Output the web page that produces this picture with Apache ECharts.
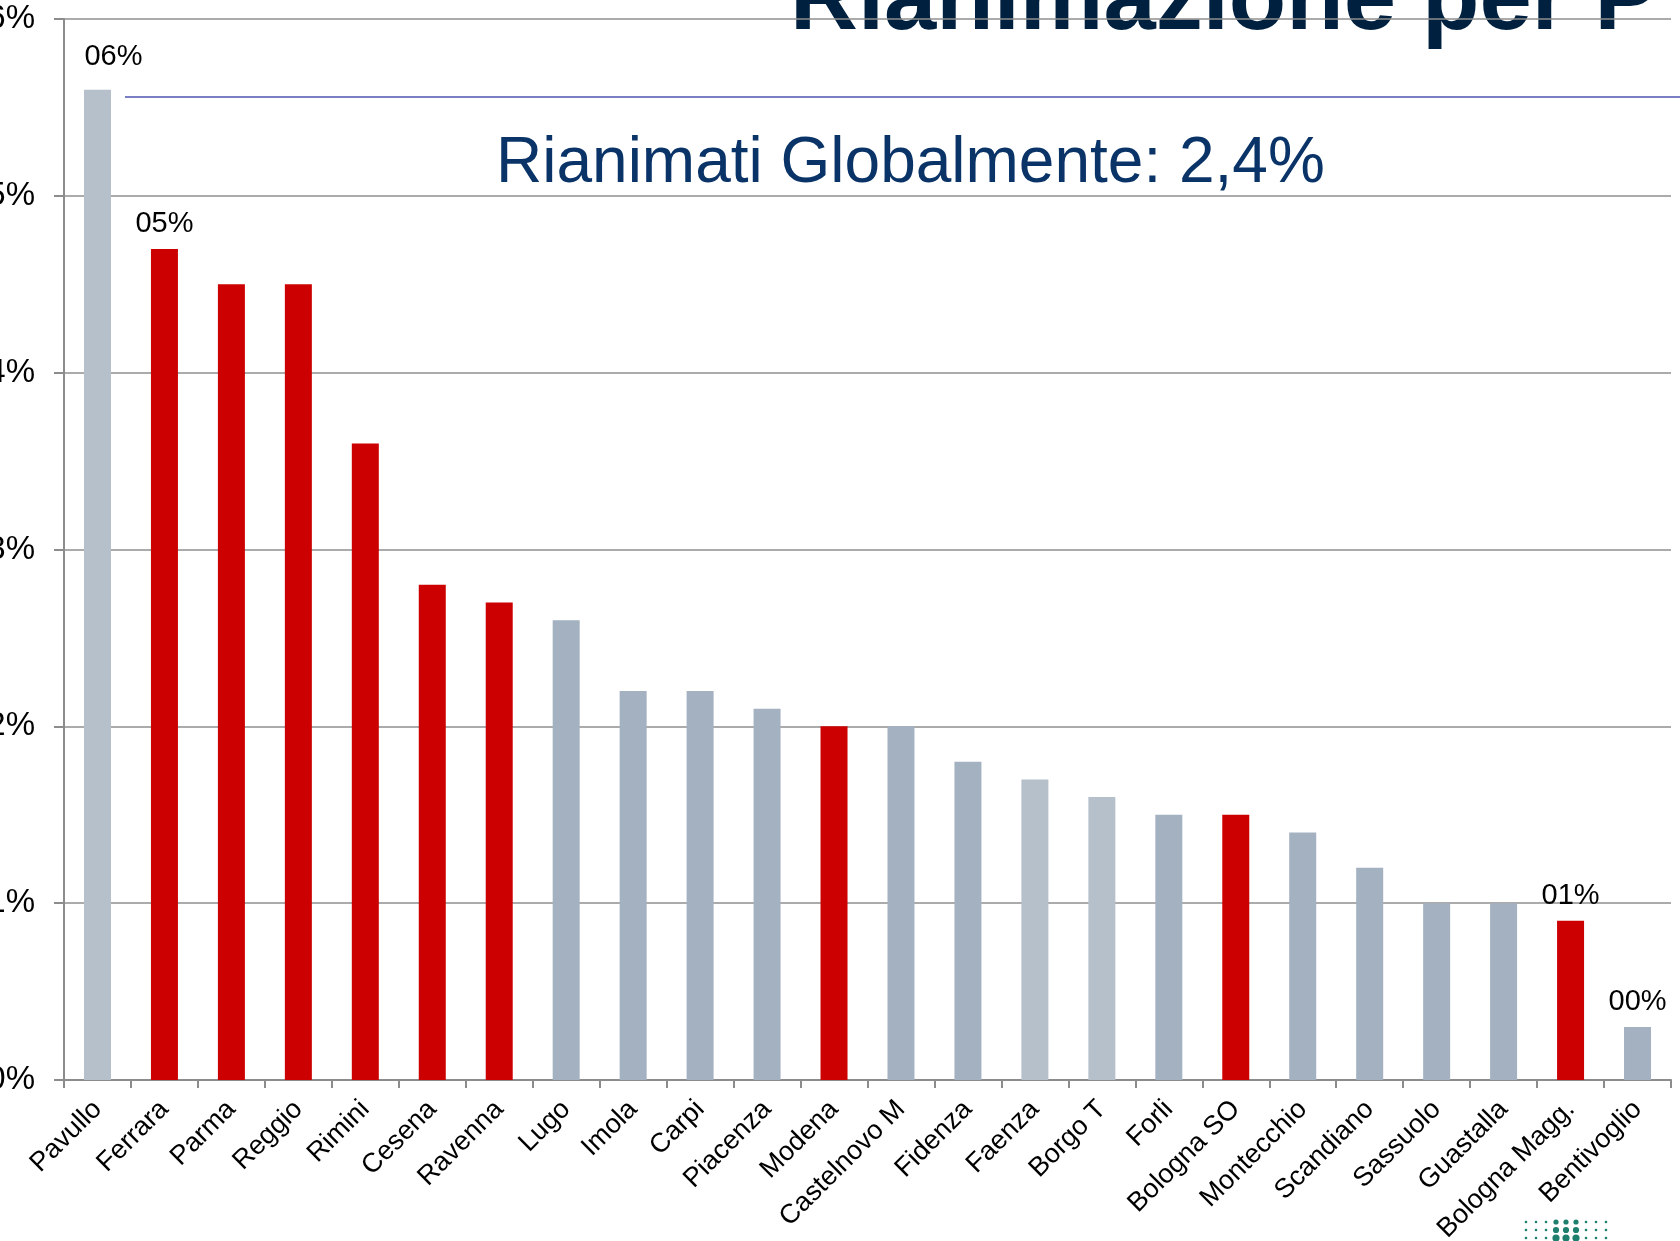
<!DOCTYPE html>
<html>
<head>
<meta charset="utf-8">
<title>Rianimazione per P</title>
<script src="https://cdn.jsdelivr.net/npm/echarts@6/dist/echarts.min.js"></script>
<style>
  html, body { margin: 0; padding: 0; background: #fff; }
  #main { width: 1680px; height: 1241px; }
</style>
</head>
<body>
<div id="main"></div>
<script>
// ospedali, ordinati per percentuale di rianimati
var ospedali = ['Pavullo', 'Ferrara', 'Parma', 'Reggio', 'Rimini', 'Cesena', 'Ravenna', 'Lugo',
  'Imola', 'Carpi', 'Piacenza', 'Modena', 'Castelnovo M', 'Fidenza', 'Faenza', 'Borgo T',
  'Forli', 'Bologna SO', 'Montecchio', 'Scandiano', 'Sassuolo', 'Guastalla', 'Bologna Magg.', 'Bentivoglio'];
var rianimati = [5.6, 4.7, 4.5, 4.5, 3.6, 2.8, 2.7, 2.6,
  2.2, 2.2, 2.1, 2.0, 2.0, 1.8, 1.7, 1.6,
  1.5, 1.5, 1.4, 1.2, 1.0, 1.0, 0.9, 0.3];
var evidenziati = ['Ferrara', 'Parma', 'Reggio', 'Rimini', 'Cesena', 'Ravenna', 'Modena', 'Bologna SO', 'Bologna Magg.'];
var chiari = ['Pavullo', 'Faenza', 'Borgo T'];
var conEtichetta = ['Pavullo', 'Ferrara', 'Bologna Magg.', 'Bentivoglio'];
var yTicks = [0, 1, 2, 3, 4, 5, 6];

var myChart = echarts.init(document.getElementById('main'));

var barData = ospedali.map(function (nome, i) {
  var colore = '#A3B1C0';
  if (evidenziati.indexOf(nome) >= 0) colore = '#CC0000';
  else if (chiari.indexOf(nome) >= 0) colore = '#B5C0CB';
  var item = { value: rianimati[i], itemStyle: { color: colore } };
  if (conEtichetta.indexOf(nome) >= 0) {
    item.label = { show: true };
    if (nome === 'Pavullo') item.label.offset = [16, -8];
  }
  return item;
});

// piccolo logo a puntini in basso a destra
var dots = [];
for (var r = 0; r < 3; r++) {
  for (var c = 0; c < 9; c++) {
    var big = (c >= 3 && c <= 5);
    dots.push({
      type: 'circle',
      shape: { cx: 1526 + c * 10, cy: 1222 + r * 8, r: big ? 2.6 + r * 0.5 : 1.3 },
      style: { fill: '#1F7F6E' }
    });
  }
}

myChart.setOption({
  backgroundColor: '#ffffff',
  animation: false,
  textStyle: { fontFamily: 'Liberation Sans, Arial, sans-serif' },
  grid: { left: 64, right: 9, top: 19, bottom: 161, containLabel: false, outerBoundsMode: 'none' },
  xAxis: {
    type: 'category',
    data: ospedali,
    axisLine: { lineStyle: { color: '#8C8C8C', width: 2 } },
    axisTick: { show: true, length: 8, lineStyle: { color: '#8C8C8C', width: 2 } },
    axisLabel: { rotate: 45, interval: 0, fontSize: 27, color: '#000', margin: 25, hideOverlap: false }
  },
  yAxis: {
    type: 'value',
    min: yTicks[0],
    max: yTicks[yTicks.length - 1],
    interval: 1,
    axisLine: { show: true, lineStyle: { color: '#8C8C8C', width: 2 } },
    axisTick: { show: true, length: 10, lineStyle: { color: '#8C8C8C', width: 2 } },
    splitLine: { lineStyle: { color: '#8F8F8F', width: 1.5 } },
    axisLabel: {
      fontSize: 33, color: '#000', margin: 29,
      formatter: function (v) { return v + '%'; }
    }
  },
  graphic: [
    {
      type: 'text', z: -10,
      style: {
        x: 790, y: 3, text: 'Rianimazione per P',
        font: 'bold 94px "Liberation Sans", Arial, sans-serif',
        fill: '#00203F', verticalAlign: 'middle', align: 'left'
      }
    },
    {
      type: 'line', z: 1,
      shape: { x1: 125, y1: 97, x2: 1680, y2: 97 },
      style: { stroke: '#7A7EC2', lineWidth: 2 }
    },
    {
      type: 'text',
      style: {
        x: 496, y: 164, text: 'Rianimati Globalmente: 2,4%',
        font: '64px "Liberation Sans", Arial, sans-serif',
        fill: '#0A3468', verticalAlign: 'middle', align: 'left'
      }
    },
    { type: 'group', children: dots }
  ],
  series: [{
    type: 'bar',
    data: barData,
    barWidth: 27,
    label: {
      show: false,
      position: 'top',
      distance: 10,
      fontSize: 29,
      color: '#000',
      formatter: function (p) {
        var s = String(Math.round(p.value));
        if (s.length < 2) s = '0' + s;
        return s + '%';
      }
    }
  }]
});
</script>
</body>
</html>
